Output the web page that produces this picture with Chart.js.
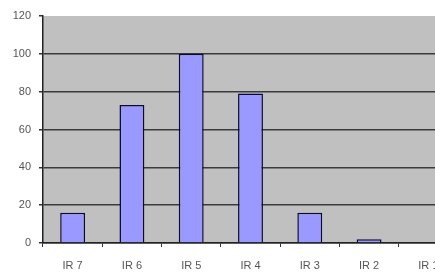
<!DOCTYPE html>
<html>
<head>
<meta charset="utf-8">
<script src="https://cdn.jsdelivr.net/npm/chart.js@4/dist/chart.umd.min.js"></script>
<style>
html,body{margin:0;padding:0;background:#fff;overflow:hidden;width:435px;height:272px;}
#wrap{position:absolute;left:0;top:0;width:458px;height:280px;}
</style>
</head>
<body>
<div id="wrap"><canvas id="c"></canvas></div>
<script>
const categories = ["IR 7","IR 6","IR 5","IR 4","IR 3","IR 2","IR 1"];
const values = [16, 73, 100, 79, 16, 2, 0];
const yTicks = [0, 20, 40, 60, 80, 100, 120];

const plotBg = {
  id: 'plotBg',
  beforeDraw(chart) {
    const {ctx, chartArea: a} = chart;
    ctx.save();
    ctx.fillStyle = '#c0c0c0';
    ctx.fillRect(a.left, a.top, a.right - a.left, a.bottom - a.top);
    ctx.restore();
  }
};

new Chart(document.getElementById('c'), {
  type: 'bar',
  data: {
    labels: categories,
    datasets: [{
      data: values,
      backgroundColor: '#9999ff',
      borderColor: '#0a0a30',
      borderWidth: 1.5,
      categoryPercentage: 1,
      barPercentage: 0.42
    }]
  },
  options: {
    responsive: true,
    maintainAspectRatio: false,
    animation: false,
    devicePixelRatio: 1,
    layout: {padding: {top: 16, left: 0, right: 0, bottom: 0}},
    plugins: {legend: {display: false}, tooltip: {enabled: false}},
    scales: {
      x: {
        afterFit(s) { s.height = 37; },
        grid: {offset: true, drawOnChartArea: false, drawTicks: true, tickLength: 4, color: '#333'},
        border: {display: true, color: '#222', width: 1.5},
        ticks: {color: '#555', font: {family: 'Liberation Sans, Arial', size: 11}, padding: 12, maxRotation: 0, autoSkip: false}
      },
      y: {
        min: 0, max: 120,
        afterFit(s) { s.width = 43; },
        afterBuildTicks(s) { s.ticks = yTicks.map(v => ({value: v})); },
        grid: {
          color: (c) => (c.tick && c.tick.value === 120) ? 'rgba(0,0,0,0)' : '#3a3a3a',
          lineWidth: 1.5,
          drawTicks: true, tickLength: 4, tickColor: '#333'
        },
        border: {display: true, color: '#222', width: 1.5},
        ticks: {color: '#555', font: {family: 'Liberation Sans, Arial', size: 11}, padding: 8}
      }
    }
  },
  plugins: [plotBg]
});
</script>
</body>
</html>
